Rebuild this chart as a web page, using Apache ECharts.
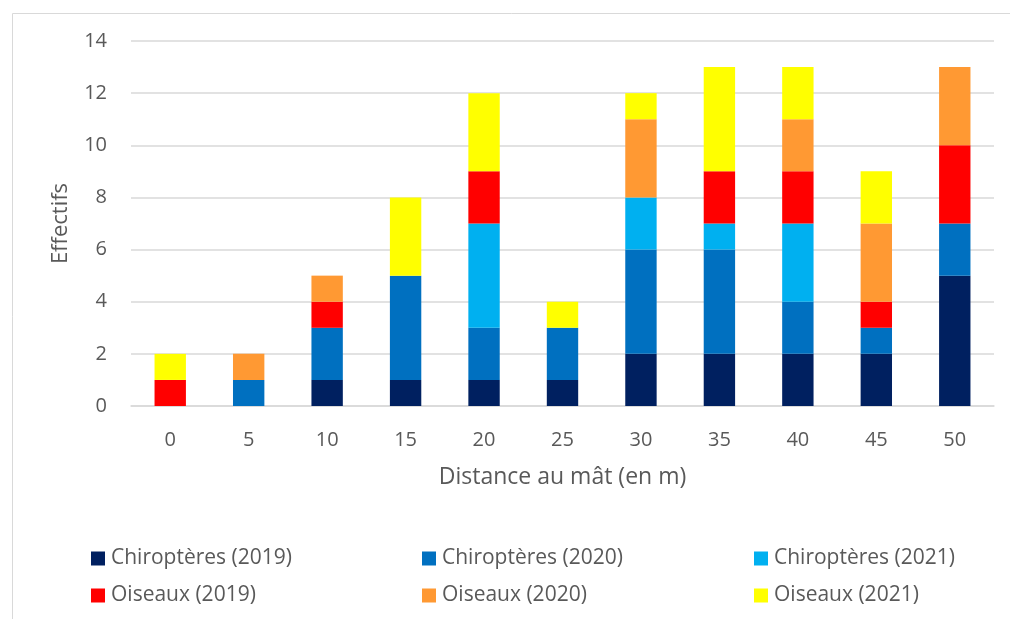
<!DOCTYPE html>
<html>
<head>
<meta charset="utf-8">
<script src="https://cdn.jsdelivr.net/npm/echarts@6/dist/echarts.min.js"></script>
<style>
html,body{margin:0;padding:0;background:#fff;}
#chart{width:1010px;height:619px;}
</style>
</head>
<body>
<div id="chart"></div>
<script>
const categories = ['0','5','10','15','20','25','30','35','40','45','50'];
const chiro2019 = [0,0,1,1,1,1,2,2,2,2,5];
const chiro2020 = [0,1,2,4,2,2,4,4,2,1,2];
const chiro2021 = [0,0,0,0,4,0,2,1,3,0,0];
const ois2019   = [1,0,1,0,2,0,0,2,2,1,3];
const ois2020   = [0,1,1,0,0,0,3,0,2,3,3];
const ois2021   = [1,0,0,3,3,1,1,4,2,2,0];
const yTicks = [0,2,4,6,8,10,12,14];

const seriesNames = ['Chiroptères (2019)','Chiroptères (2020)','Chiroptères (2021)','Oiseaux (2019)','Oiseaux (2020)','Oiseaux (2021)'];
const seriesData = [chiro2019, chiro2020, chiro2021, ois2019, ois2020, ois2021];
const colors = ['#002060','#0070C0','#00B0F0','#FF0000','#FF9933','#FFFF00'];

const FONT = 'Open Sans';
const TXT = '#595959';

const chart = echarts.init(document.getElementById('chart'), null, {renderer:'canvas'});

const legendCols = [[0,3],[1,4],[2,5]];
const legendLefts = [86, 417, 749];

const option = {
  animation: false,
  color: colors,
  textStyle: {fontFamily: FONT},
  graphic: [{
    type: 'rect', left: 10, top: 11, silent: true,
    shape: {width: 1100, height: 700},
    style: {fill: 'none', stroke: '#d9d9d9', lineWidth: 1}
  }],
  grid: {left: 131, right: 16, top: 41, bottom: 213, containLabel: false},
  xAxis: {
    type: 'category',
    data: categories,
    name: 'Distance au mât (en m)',
    nameLocation: 'middle',
    nameGap: 60,
    nameTextStyle: {color: TXT, fontSize: 23, fontFamily: FONT},
    axisLine: {show: true, lineStyle: {color: '#d9d9d9', width: 1.5}},
    axisTick: {show: false},
    axisLabel: {color: TXT, fontSize: 20, margin: 24, fontFamily: FONT}
  },
  yAxis: {
    type: 'value',
    min: yTicks[0], max: yTicks[yTicks.length-1], interval: 2,
    name: 'Effectifs',
    nameLocation: 'middle',
    nameGap: 59,
    nameTextStyle: {color: TXT, fontSize: 22, fontFamily: FONT},
    axisLine: {show: false},
    axisTick: {show: false},
    axisLabel: {color: TXT, fontSize: 20, margin: 24, fontFamily: FONT},
    splitLine: {lineStyle: {color: '#d9d9d9', width: 1.5}}
  },
  legend: legendCols.map((idxs, c) => ({
    data: idxs.map(i => seriesNames[i]),
    orient: 'vertical',
    left: legendLefts[c],
    top: 543,
    itemWidth: 14, itemHeight: 14,
    itemGap: 16,
    icon: 'rect',
    textStyle: {color: TXT, fontSize: 21, fontFamily: FONT, padding: [0,0,0,1]},
    selectedMode: false
  })),
  series: seriesNames.map((name, i) => ({
    name: name,
    type: 'bar',
    stack: 'total',
    data: seriesData[i],
    barCategoryGap: '60%',
    itemStyle: {color: colors[i]}
  }))
};
chart.setOption(option);
</script>
</body>
</html>
